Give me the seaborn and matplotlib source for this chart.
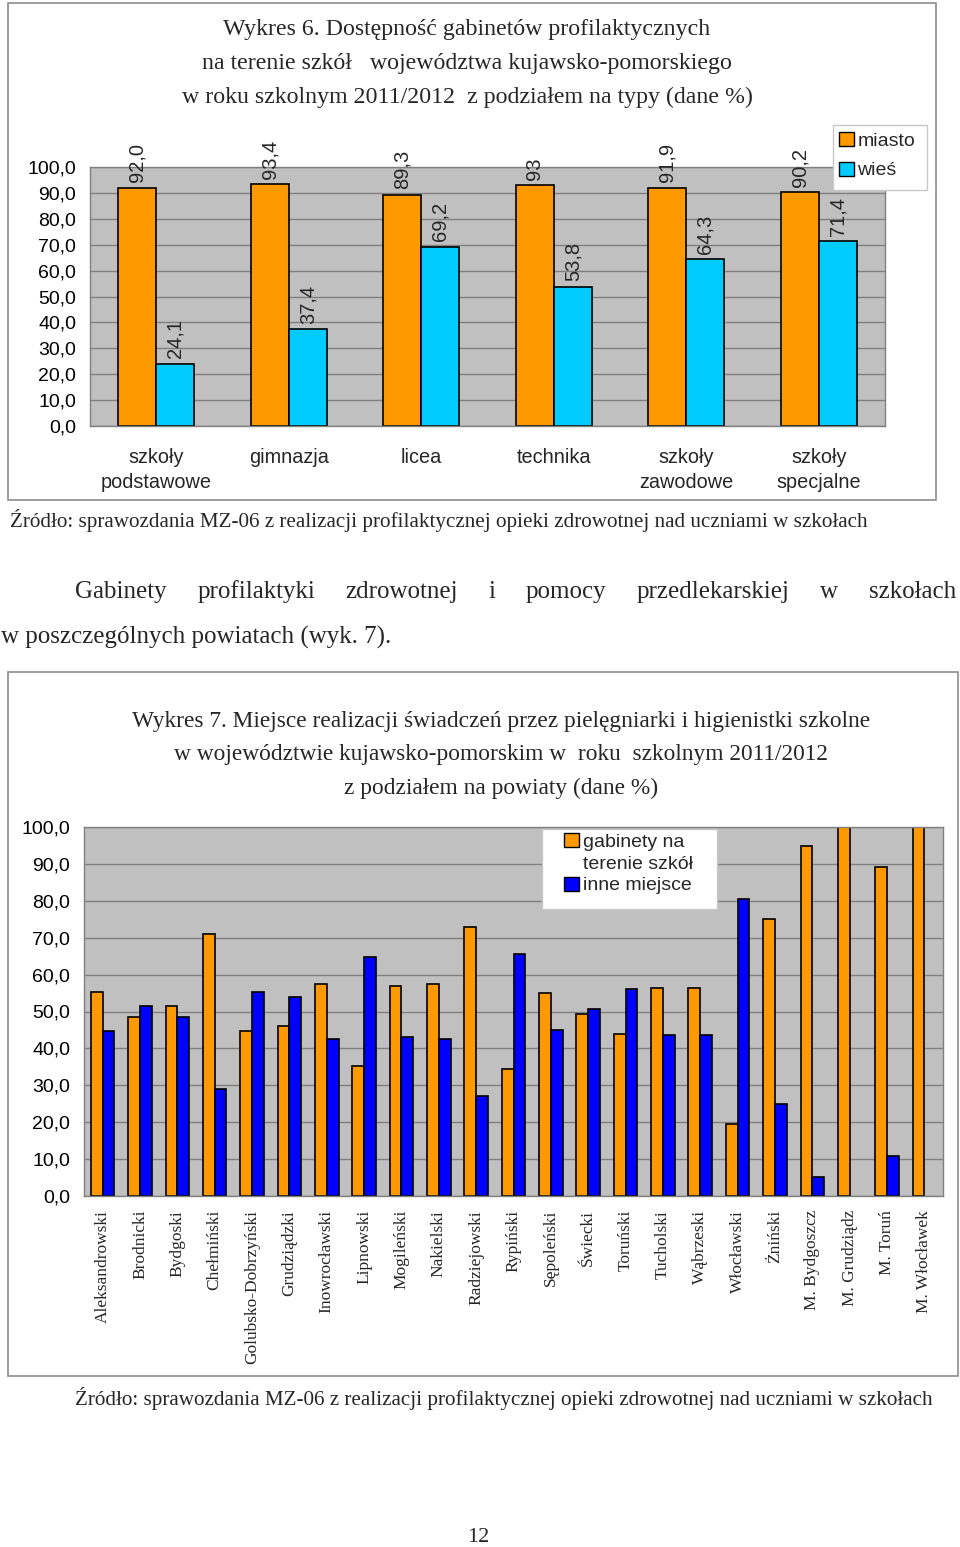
import numpy as np
import pandas as pd
import matplotlib
matplotlib.use("Agg")
import matplotlib.pyplot as plt
from matplotlib.patches import Patch, Rectangle
from matplotlib.ticker import FuncFormatter, MultipleLocator, FixedLocator
import seaborn as sns

# Wykres 6 - typy szkół
typy_szkol = ["szkoły\npodstawowe", "gimnazja", "licea", "technika",
              "szkoły\nzawodowe", "szkoły\nspecjalne"]
miasto = [92.0, 93.4, 89.3, 93.0, 91.9, 90.2]
wies = [24.1, 37.4, 69.2, 53.8, 64.3, 71.4]
miasto_etykiety = ["92,0", "93,4", "89,3", "93", "91,9", "90,2"]
wies_etykiety = ["24,1", "37,4", "69,2", "53,8", "64,3", "71,4"]

# Wykres 7 - powiaty
powiaty = ["Aleksandrowski", "Brodnicki", "Bydgoski", "Chełmiński",
           "Golubsko-Dobrzyński", "Grudziądzki", "Inowrocławski", "Lipnowski",
           "Mogileński", "Nakielski", "Radziejowski", "Rypiński", "Sępoleński",
           "Świecki", "Toruński", "Tucholski", "Wąbrzeski", "Włocławski",
           "Żniński", "M. Bydgoszcz", "M. Grudziądz", "M. Toruń", "M. Włocławek"]
gabinety = [55.3, 48.5, 51.4, 71.1, 44.7, 46.2, 57.4, 35.2, 57.0, 57.4, 72.8,
            34.4, 54.9, 49.4, 43.8, 56.5, 56.5, 19.4, 75.0, 94.8, 100.0, 89.1, 100.0]
inne = [44.7, 51.5, 48.6, 28.9, 55.3, 53.8, 42.6, 64.8, 43.0, 42.6, 27.2,
        65.6, 45.1, 50.6, 56.2, 43.5, 43.5, 80.6, 25.0, 5.2, 0.0, 10.9, 0.0]

W, H = 960, 1547
SERIF = "Liberation Serif"
SANS = "Liberation Sans"
GREY_BG = "#C0C0C0"
GRID = "#808080"


def fx(x):
    return x / W


def fy(y):
    return 1 - y / H


def fmt_pl(v, pos):
    return "{:.1f}".format(v).replace(".", ",")


def style_axes(ax, sans_size):
    ax.set_facecolor(GREY_BG)
    ax.set_ylim(0, 100)
    ax.yaxis.set_major_locator(MultipleLocator(10))
    ax.yaxis.set_major_formatter(FuncFormatter(fmt_pl))
    ax.yaxis.grid(True, color=GRID, lw=1.0)
    ax.xaxis.grid(False)
    ax.set_axisbelow(True)
    for s in ax.spines.values():
        s.set_color(GRID)
        s.set_linewidth(1.0)
    ax.tick_params(axis="y", length=6, width=1, color=GRID, pad=4,
                   labelsize=sans_size, labelcolor="black")
    for t in ax.get_yticklabels():
        t.set_family(SANS)
    ax.set_xlabel("")
    ax.set_ylabel("")


def frame(x0, y0, x1, y1, ec, fc="none", lw=1.2):
    fig.patches.append(Rectangle((fx(x0), fy(y1)), (x1 - x0) / W, (y1 - y0) / H,
                                 transform=fig.transFigure, fc=fc, ec=ec, lw=lw,
                                 zorder=1))


sns.set_style("white")
plt.rcParams["font.family"] = [SERIF, "DejaVu Serif"]

fig = plt.figure(figsize=(W / 100, H / 100), dpi=100)

# ramki wykresów
frame(8, 3, 936, 500, "#8c8c8c")
frame(8, 672, 958, 1376, "#8c8c8c")

# ---------------- Wykres 6 ----------------
df1 = pd.DataFrame({
    "typ": typy_szkol * 2,
    "proc": miasto + wies,
    "miejsce": ["miasto"] * len(miasto) + ["wieś"] * len(wies),
})
ax1 = fig.add_axes([fx(90), fy(426), (885 - 90) / W, (426 - 167) / H])
pal1 = ["#FF9900", "#00CCFF"]
sns.barplot(data=df1, x="typ", y="proc", hue="miejsce", order=typy_szkol,
            palette=pal1, saturation=1, edgecolor="black", linewidth=1.2,
            width=0.575, gap=0, legend=False, ax=ax1)
style_axes(ax1, 14)
ax1.set_xlim(-0.5, len(typy_szkol) - 0.5)
ax1.xaxis.set_minor_locator(FixedLocator(np.arange(-0.5, len(typy_szkol), 1)))
ax1.tick_params(axis="x", which="major", length=0, pad=16, labelsize=14.3)
ax1.tick_params(axis="x", which="minor", length=8, width=1, color=GRID)
for t in ax1.get_xticklabels():
    t.set_family(SANS)
    t.set_linespacing(1.4)
for cont, labs in zip(ax1.containers, [miasto_etykiety, wies_etykiety]):
    ax1.bar_label(cont, labels=labs, rotation=90, padding=4, fontsize=14.5,
                  family=SANS)

frame(833, 125, 927, 190, "#c8c8c8", fc="white", lw=1.0)
fig.legend(handles=[Patch(fc=c, ec="black", lw=1.0) for c in pal1],
           labels=["miasto", "wieś"], loc="upper left",
           bbox_to_anchor=(fx(839), fy(132)), bbox_transform=fig.transFigure,
           prop={"family": SANS, "size": 14}, frameon=False,
           handlelength=0.75, handleheight=0.75, handletextpad=0.2,
           labelspacing=0.6, borderpad=0, borderaxespad=0)

tyt6 = ["Wykres 6. Dostępność gabinetów profilaktycznych",
        "na terenie szkół   województwa kujawsko-pomorskiego",
        "w roku szkolnym 2011/2012  z podziałem na typy (dane %)"]
for i, line in enumerate(tyt6):
    fig.text(fx(467), fy(29 + 34 * i), line, ha="center", va="center",
             fontsize=17.2, family=SERIF)

zrodlo = "Źródło: sprawozdania MZ-06 z realizacji profilaktycznej opieki zdrowotnej nad uczniami w szkołach"
fig.text(fx(10), fy(521), zrodlo, ha="left", va="center", fontsize=15.2, family=SERIF)

# akapit wyjustowany
slowa = ["Gabinety", "profilaktyki", "zdrowotnej", "i", "pomocy",
         "przedlekarskiej", "w", "szkołach"]
renderer = fig.canvas.get_renderer()
txts = [fig.text(0, fy(592), s, ha="left", va="center", fontsize=18, family=SERIF)
        for s in slowa]
widths = [t.get_window_extent(renderer).width for t in txts]
x0, x1 = 75, 956
gap = (x1 - x0 - sum(widths)) / (len(slowa) - 1)
xpos = x0
for t, w in zip(txts, widths):
    t.set_x(fx(xpos))
    xpos += w + gap
fig.text(fx(1), fy(637), "w poszczególnych powiatach (wyk. 7).", ha="left",
         va="center", fontsize=18, family=SERIF)

# ---------------- Wykres 7 ----------------
df2 = pd.DataFrame({
    "powiat": powiaty * 2,
    "proc": gabinety + inne,
    "miejsce": ["gabinety na terenie szkół"] * len(gabinety) + ["inne miejsce"] * len(inne),
})
ax2 = fig.add_axes([fx(84), fy(1196), (943 - 84) / W, (1196 - 827) / H])
pal2 = ["#FF9900", "#0000FF"]
sns.barplot(data=df2, x="powiat", y="proc", hue="miejsce", order=powiaty,
            palette=pal2, saturation=1, edgecolor="black", linewidth=1.2,
            width=0.63, gap=0, legend=False, ax=ax2)
for p in ax2.patches:
    if p.get_height() == 0:
        p.set_visible(False)
style_axes(ax2, 14)
ax2.set_xlim(-0.5, len(powiaty) - 0.5)
ax2.xaxis.set_minor_locator(FixedLocator(np.arange(-0.5, len(powiaty), 1)))
ax2.tick_params(axis="x", which="major", length=0, pad=10, labelsize=12.5,
                labelrotation=90)
ax2.tick_params(axis="x", which="minor", length=5, width=1, color=GRID)
for t in ax2.get_xticklabels():
    t.set_family(SERIF)
    t.set_va("top")

frame(542, 829, 717, 909, "#c8c8c8", fc="white", lw=1.0)
fig.legend(handles=[Patch(fc=pal2[0], ec="black", lw=1.0),
                    Patch(fc="none", ec="none"),
                    Patch(fc=pal2[1], ec="black", lw=1.0)],
           labels=["gabinety na", "terenie szkół", "inne miejsce"],
           loc="upper left", bbox_to_anchor=(fx(564), fy(833)),
           bbox_transform=fig.transFigure,
           prop={"family": SANS, "size": 14}, frameon=False,
           handlelength=0.75, handleheight=0.75, handletextpad=0.25,
           labelspacing=0.2, borderpad=0, borderaxespad=0)

tyt7 = ["Wykres 7. Miejsce realizacji świadczeń przez pielęgniarki i higienistki szkolne",
        "w województwie kujawsko-pomorskim w  roku  szkolnym 2011/2012",
        "z podziałem na powiaty (dane %)"]
for i, line in enumerate(tyt7):
    fig.text(fx(501), fy(721 + 33.5 * i), line, ha="center", va="center",
             fontsize=16.8, family=SERIF)

fig.text(fx(75), fy(1398), zrodlo, ha="left", va="center", fontsize=15.2, family=SERIF)
fig.text(fx(478), fy(1537), "12", ha="center", va="center", fontsize=16, family=SERIF)

fig.savefig("out.png", dpi=100, facecolor="white")
